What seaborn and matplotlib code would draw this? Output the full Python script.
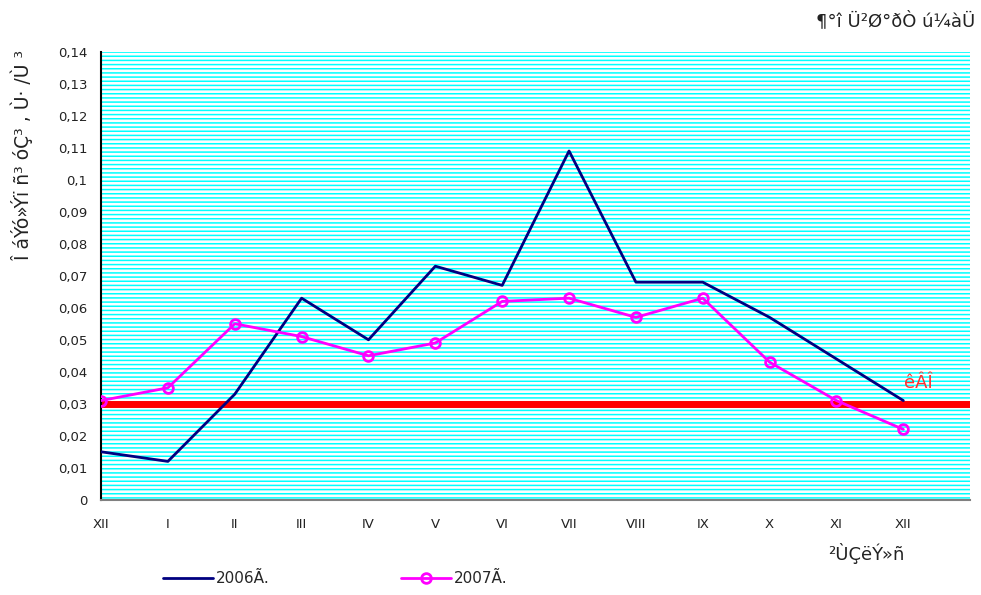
import numpy as np
import pandas as pd
import matplotlib
matplotlib.use("Agg")
import matplotlib.pyplot as plt
import seaborn as sns
from matplotlib.patches import Rectangle
from matplotlib.ticker import FuncFormatter, MultipleLocator

# =========================================================
# DADOS
# =========================================================
MESES = ["XII", "I", "II", "III", "IV", "V", "VI", "VII", "VIII", "IX", "X", "XI", "XII"]
VALORES_2006 = [0.015, 0.012, 0.033, 0.063, 0.050, 0.073, 0.067, 0.109,
                0.068, 0.068, 0.057, 0.044, 0.031]
VALORES_2007 = [0.031, 0.035, 0.055, 0.051, 0.045, 0.049, 0.062, 0.063,
                0.057, 0.063, 0.043, 0.031, 0.022]
SERIES = ["2006Ã.", "2007Ã."]
LIMITE = 0.03
LIMITE_NOME = "êÂÎ"

TITULO = "¶°î Ü²Ø°ðÒ ú¼àÜ"
XLABEL = "²ÙÇëÝ»ñ"
YLABEL = "Î áÝó»Ýï ñ³ óÇ³ , Ù· /Ù ³"


def main():
    sns.set_style("white")
    plt.rcParams["font.family"] = ["DejaVu Sans"]
    plt.rcParams["hatch.linewidth"] = 1.1

    df = pd.DataFrame({
        "pos": list(range(len(MESES))) * 2,
        "valor": VALORES_2006 + VALORES_2007,
        "serie": [SERIES[0]] * len(MESES) + [SERIES[1]] * len(MESES),
    })

    fig = plt.figure(figsize=(9.81, 5.95), dpi=100)
    ax = fig.add_axes([0.103, 0.160, 0.886, 0.753])

    # fundo listrado ciano
    fundo = Rectangle((0, 0), 1, 1, transform=ax.transAxes, facecolor="white",
                      edgecolor="#00FFFF", hatch="----", linewidth=0, zorder=0)
    ax.add_patch(fundo)

    ax.axhline(LIMITE, color="#FF0000", linewidth=5, zorder=2)
    ax.text(12.22, 0.0366, LIMITE_NOME, color="#FF3030", fontsize=13,
            ha="center", va="center", zorder=3)

    sns.lineplot(data=df[df["serie"] == SERIES[0]], x="pos", y="valor", ax=ax,
                 color="#000080", linewidth=2, label=SERIES[0], zorder=4)
    sns.lineplot(data=df[df["serie"] == SERIES[1]], x="pos", y="valor", ax=ax,
                 color="#FF00FF", linewidth=2, marker="o", markersize=7,
                 markerfacecolor="none", markeredgecolor="#FF00FF",
                 markeredgewidth=2, label=SERIES[1], zorder=5)

    ax.set_xlim(0, 13)
    ax.set_ylim(0, 0.14)
    ax.set_xticks(range(14))
    ax.set_xticklabels(MESES + [""])
    ax.yaxis.set_major_locator(MultipleLocator(0.01))
    ax.yaxis.set_major_formatter(
        FuncFormatter(lambda v, p: f"{v:g}".replace(".", ",")))
    ax.tick_params(axis="both", direction="out", length=5, width=1,
                   color="#808080", labelsize=9.5, labelcolor="#222222", pad=5)
    ax.tick_params(axis="x", pad=8)
    ax.set_xlabel("")
    ax.set_ylabel("")

    for lado in ["top", "right"]:
        ax.spines[lado].set_visible(False)
    ax.spines["left"].set_color("black")
    ax.spines["left"].set_linewidth(1.5)
    ax.spines["bottom"].set_color("#808080")
    ax.spines["bottom"].set_linewidth(1.5)

    ax.get_legend().remove()
    handles, labels = ax.get_legend_handles_labels()
    fig.legend(handles, labels, loc="center left", bbox_to_anchor=(0.152, 0.028),
               ncol=2, frameon=False, fontsize=11, handlelength=3.3,
               handletextpad=0.15, columnspacing=8.6)

    fig.text(0.994, 0.966, TITULO, ha="right", va="center", fontsize=13,
             color="#222222")
    fig.text(0.883, 0.069, XLABEL, ha="center", va="center", fontsize=13,
             color="#222222")
    fig.text(0.022, 0.74, YLABEL, ha="center", va="center", rotation=90,
             fontsize=13.5, color="#222222")

    fig.savefig("out.png", dpi=100)
    plt.close(fig)


if __name__ == "__main__":
    main()
